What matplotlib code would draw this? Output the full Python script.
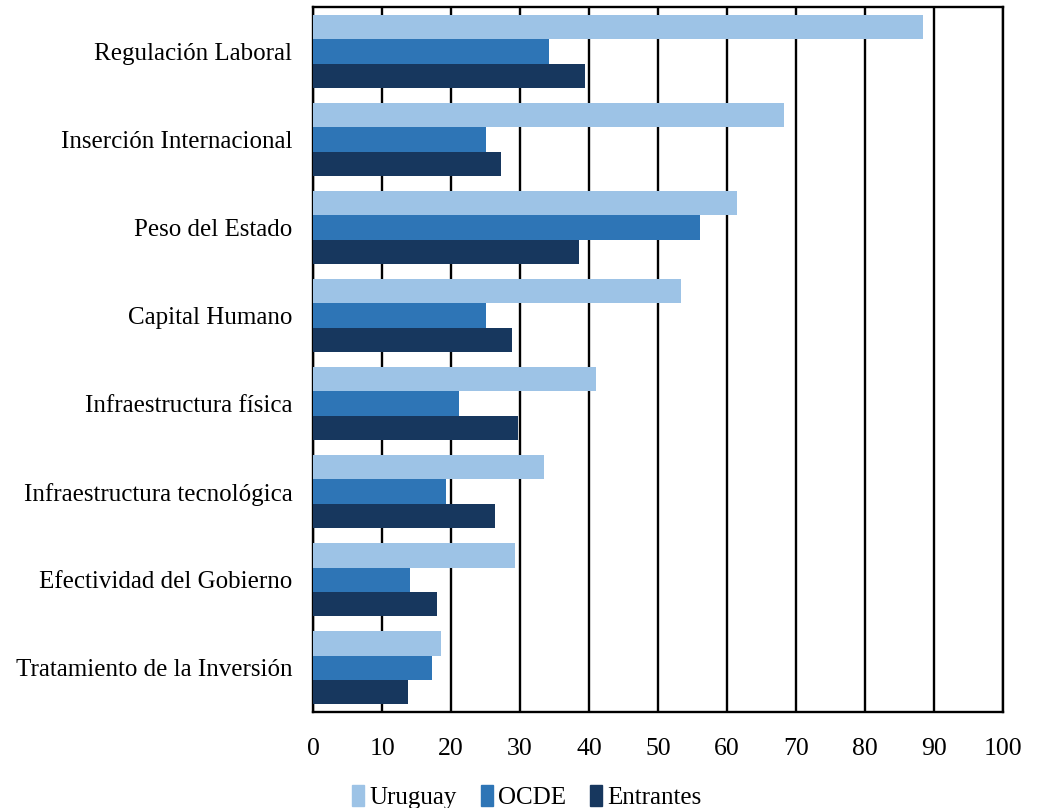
import numpy as np
import matplotlib.pyplot as plt
from matplotlib.patches import Patch

categorias = ["Regulación Laboral", "Inserción Internacional", "Peso del Estado",
              "Capital Humano", "Infraestructura física", "Infraestructura tecnológica",
              "Efectividad del Gobierno", "Tratamiento de la Inversión"]
uruguay = [88.4, 68.3, 61.5, 53.4, 41.0, 33.5, 29.3, 18.6]
ocde = [34.2, 25.1, 56.1, 25.1, 21.2, 19.2, 14.1, 17.2]
entrantes = [39.4, 27.2, 38.5, 28.8, 29.7, 26.4, 18.0, 13.7]

series = ["Uruguay", "OCDE", "Entrantes"]
colores = ["#9DC3E6", "#2E75B6", "#17375E"]

plt.rcParams['font.family'] = ['Liberation Serif', 'DejaVu Serif']

fig = plt.figure(figsize=(10.37, 8.08), dpi=100)
ax = fig.add_axes([0.302, 0.119, 0.665, 0.872])

y = np.arange(len(categorias))
h = 0.277
for i, (vals, col) in enumerate(zip([uruguay, ocde, entrantes], colores)):
    ax.barh(y + (i - 1) * h, vals, height=h, color=col, zorder=3)

ax.set_xlim(0, 100)
ax.set_ylim(len(categorias) - 0.5, -0.5)
ax.set_xticks(np.arange(0, 101, 10))
ax.set_yticks(y)
ax.set_yticklabels(categorias)
ax.grid(axis='x', color='black', linewidth=1.7, zorder=1)
for s in ax.spines.values():
    s.set_color('black')
    s.set_linewidth(1.7)
ax.tick_params(axis='x', length=0, pad=19, labelsize=18.5)
ax.tick_params(axis='y', length=0, pad=15, labelsize=18)

handles = [Patch(color=c, label=s) for c, s in zip(colores, series)]
fig.legend(handles=handles, loc='lower center', bbox_to_anchor=(0.508, -0.029), ncol=3,
           frameon=False, fontsize=18, handlelength=0.5, handleheight=0.95,
           handletextpad=0.2, columnspacing=0.95)

fig.savefig("out.png", dpi=100)
